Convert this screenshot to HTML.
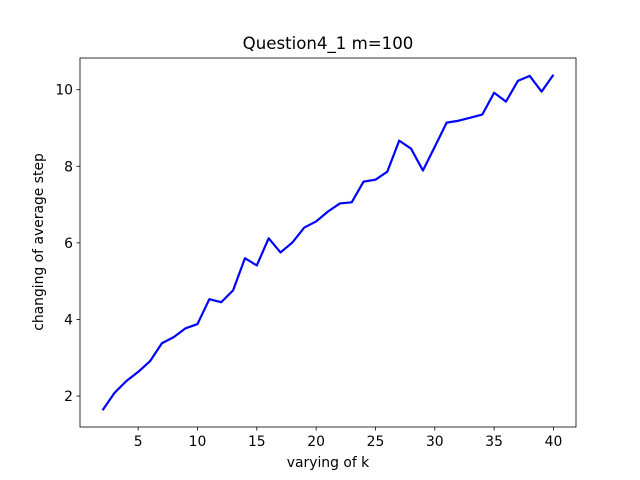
<!DOCTYPE html>
<html><head><meta charset="utf-8"><style>
html,body{margin:0;padding:0;background:#fff}
svg{display:block;font-family:"DejaVu Sans","Liberation Sans",sans-serif}
</style></head><body>
<svg id="chart" width="640" height="480">
<rect width="640" height="480" fill="#fff"/>
<text x="328" y="49" text-anchor="middle" font-size="16.6">Question4_1 m=100</text>
<g id="xticks"></g>
<g id="yticks"></g>
<path id="line" fill="none" stroke="#0000ff" stroke-width="2.2" stroke-linejoin="round"/>
<rect x="80" y="58" width="496" height="369" fill="none" stroke="#000" stroke-width="0.8"/>
<text x="328" y="467" text-anchor="middle" font-size="13.9">varying of k</text>
<text transform="translate(43,242) rotate(-90)" text-anchor="middle" font-size="13.9">changing of average step</text>
</svg>
<script>
const kValues = [2,3,4,5,6,7,8,9,10,11,12,13,14,15,16,17,18,19,20,21,22,23,24,25,26,27,28,29,30,31,32,33,34,35,36,37,38,39,40];
const avgSteps = [1.63,2.08,2.39,2.63,2.91,3.38,3.54,3.77,3.88,4.53,4.45,4.76,5.60,5.41,6.12,5.75,6.01,6.40,6.56,6.82,7.03,7.06,7.60,7.65,7.86,8.67,8.46,7.89,8.51,9.14,9.19,9.27,9.35,9.92,9.69,10.23,10.36,9.95,10.39];
const xTickLabels = [5,10,15,20,25,30,35,40];
const yTickLabels = [2,4,6,8,10];

const L=80,R=576,T=58,B=427;
const xmin=Math.min(...kValues),xmax=Math.max(...kValues);
const ymin=Math.min(...avgSteps),ymax=Math.max(...avgSteps);
const xpad=(xmax-xmin)*0.05,ypad=(ymax-ymin)*0.05;
const x0=xmin-xpad,x1=xmax+xpad,y0=ymin-ypad,y1=ymax+ypad;
const sx=v=>L+(v-x0)/(x1-x0)*(R-L);
const sy=v=>B-(v-y0)/(y1-y0)*(B-T);
const NS="http://www.w3.org/2000/svg";
const xg=document.getElementById('xticks'),yg=document.getElementById('yticks');
xTickLabels.forEach(v=>{
  const x=sx(v);
  const ln=document.createElementNS(NS,'line');
  ln.setAttribute('x1',x);ln.setAttribute('x2',x);ln.setAttribute('y1',B);ln.setAttribute('y2',B+3.5);
  ln.setAttribute('stroke','#000');ln.setAttribute('stroke-width','0.8');
  
  
  xg.appendChild(ln);
  const t=document.createElementNS(NS,'text');
  t.setAttribute('x',x);t.setAttribute('y',B+19);t.setAttribute('text-anchor','middle');t.setAttribute('font-size','13.9');
  t.textContent=v;
  
  
  xg.appendChild(t);
});
yTickLabels.forEach(v=>{
  const y=sy(v);
  const ln=document.createElementNS(NS,'line');
  ln.setAttribute('x1',L-3.5);ln.setAttribute('x2',L);ln.setAttribute('y1',y);ln.setAttribute('y2',y);
  ln.setAttribute('stroke','#000');ln.setAttribute('stroke-width','0.8');
  
  
  yg.appendChild(ln);
  const t=document.createElementNS(NS,'text');
  t.setAttribute('x',L-7);t.setAttribute('y',y+5);t.setAttribute('text-anchor','end');t.setAttribute('font-size','13.9');
  t.textContent=v;
  
  
  yg.appendChild(t);
});
document.getElementById('line').setAttribute('d',kValues.map((k,i)=>(i?'L':'M')+sx(k).toFixed(2)+','+sy(avgSteps[i]).toFixed(2)).join(''));
</script>
</body></html>
